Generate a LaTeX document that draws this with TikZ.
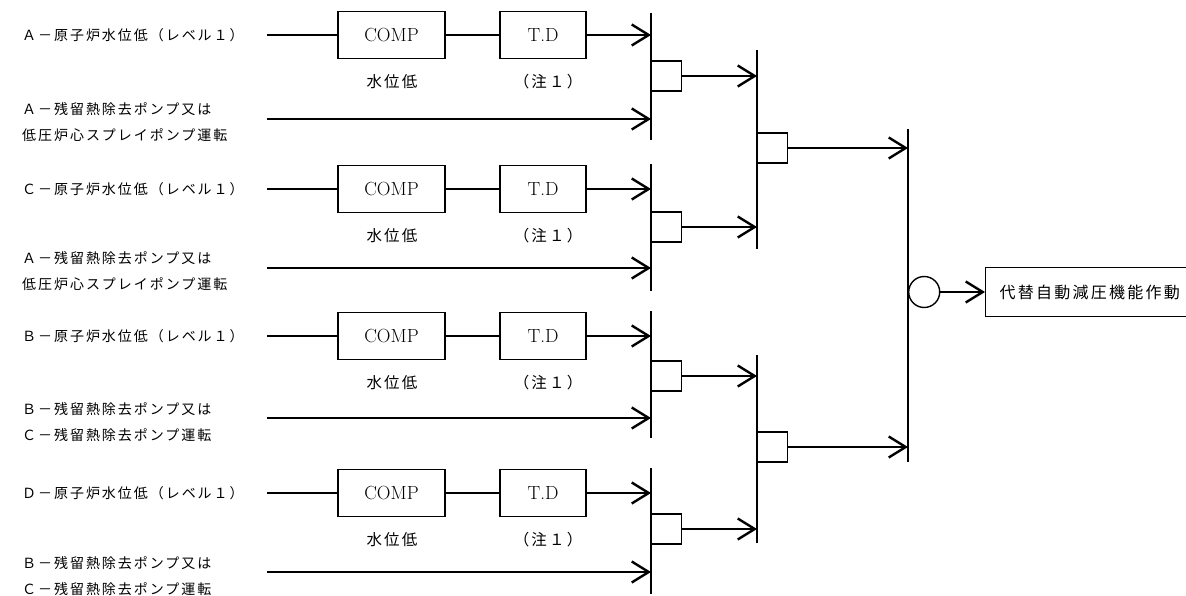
\documentclass[tikz,border=0pt]{standalone}
\usepackage{fontspec}
\usepackage{tikz}
\usetikzlibrary{arrows.meta}
\usetikzlibrary{backgrounds,positioning}
\newfontfamily\jpfont[LetterSpace=14]{Noto Sans CJK JP}
\pgfdeclarelayer{edgelayer}
\pgfdeclarelayer{nodelayer}
\pgfsetlayers{background,edgelayer,nodelayer,main}
\tikzstyle{none}=[inner sep=0mm]
\tikzstyle{sig}=[inner sep=0mm,anchor=west,align=left,font={\jpfont\fontsize{14}{26}\selectfont}]
\tikzstyle{note}=[inner sep=0mm,font={\jpfont\fontsize{15.5}{18}\selectfont}]
\tikzstyle{blk}=[draw=black,line width=1.4pt,minimum height=47pt,inner sep=0mm,font={\fontsize{19}{22}\selectfont}]
\tikzstyle{comp}=[blk,minimum width=107pt]
\tikzstyle{td}=[blk,minimum width=86pt]
\tikzstyle{andg}=[draw=black,line width=1.4pt,minimum size=30pt,inner sep=0mm,anchor=west]
\tikzstyle{org}=[draw=black,line width=1.4pt,shape=circle,minimum size=31pt,inner sep=0mm,anchor=west]
\tikzstyle{outbox}=[draw=black,line width=1.4pt,minimum height=49pt,inner xsep=14pt,anchor=west,font={\jpfont\fontsize{16}{18}\selectfont}]
\tikzstyle{wire}=[line width=2.4pt]
\tikzstyle{bus}=[line width=2.4pt]
\tikzstyle{arr}=[wire,-{Straight Barb[length=17pt,width=21pt]}]

\begin{document}
\begin{tikzpicture}[x=1pt,y=-1pt]
	\useasboundingbox (0,0) rectangle (1186,596);
	\begin{pgfonlayer}{nodelayer}
		% A
		\node [style=sig] (l1) at (22, 35) {Ａ－原子炉水位低（レベル１）};
		\node [style=sig] (l2) at (22, 122) {Ａ－残留熱除去ポンプ又は\\低圧炉心スプレイポンプ運転};
		\node [style=none] (s1) at (267, 35) {};
		\node [style=none] (s2) at (267, 119) {};
		\node [style=comp] (cp1) at (391.5, 35) {COMP};
		\node [style=td] (td1) at (543, 35) {T.D};
		\node [style=note] (n1) at (392, 82) {水位低};
		\node [style=note] (m1) at (548, 82) {（注１）};
		\node [style=none] (e1) at (651, 35) {};
		\node [style=none] (f1) at (651, 119) {};
		\node [style=none] (b1t) at (651, 13) {};
		\node [style=none] (b1b) at (651, 140) {};
		\node [style=andg] (g1) at (651, 76) {};
		% C
		\node [style=sig] (l3) at (22, 189) {Ｃ－原子炉水位低（レベル１）};
		\node [style=sig] (l4) at (22, 271) {Ａ－残留熱除去ポンプ又は\\低圧炉心スプレイポンプ運転};
		\node [style=none] (s3) at (267, 189) {};
		\node [style=none] (s4) at (267, 268) {};
		\node [style=comp] (cp2) at (391.5, 189) {COMP};
		\node [style=td] (td2) at (543, 189) {T.D};
		\node [style=note] (n2) at (392, 236) {水位低};
		\node [style=note] (m2) at (548, 236) {（注１）};
		\node [style=none] (e3) at (651, 189) {};
		\node [style=none] (f3) at (651, 268) {};
		\node [style=none] (b2t) at (651, 164) {};
		\node [style=none] (b2b) at (651, 291) {};
		\node [style=andg] (g2) at (651, 227) {};
		% B
		\node [style=sig] (l5) at (22, 336) {Ｂ－原子炉水位低（レベル１）};
		\node [style=sig] (l6) at (22, 422) {Ｂ－残留熱除去ポンプ又は\\Ｃ－残留熱除去ポンプ運転};
		\node [style=none] (s5) at (267, 336) {};
		\node [style=none] (s6) at (267, 418) {};
		\node [style=comp] (cp3) at (391.5, 336) {COMP};
		\node [style=td] (td3) at (543, 336) {T.D};
		\node [style=note] (n3) at (392, 383) {水位低};
		\node [style=note] (m3) at (548, 383) {（注１）};
		\node [style=none] (e5) at (651, 336) {};
		\node [style=none] (f5) at (651, 418) {};
		\node [style=none] (b3t) at (651, 311) {};
		\node [style=none] (b3b) at (651, 438) {};
		\node [style=andg] (g3) at (651, 376) {};
		% D
		\node [style=sig] (l7) at (22, 493) {Ｄ－原子炉水位低（レベル１）};
		\node [style=sig] (l8) at (22, 576) {Ｂ－残留熱除去ポンプ又は\\Ｃ－残留熱除去ポンプ運転};
		\node [style=none] (s7) at (267, 493) {};
		\node [style=none] (s8) at (267, 572) {};
		\node [style=comp] (cp4) at (391.5, 493) {COMP};
		\node [style=td] (td4) at (543, 493) {T.D};
		\node [style=note] (n4) at (392, 540) {水位低};
		\node [style=note] (m4) at (548, 540) {（注１）};
		\node [style=none] (e7) at (651, 493) {};
		\node [style=none] (f7) at (651, 572) {};
		\node [style=none] (b4t) at (651, 468) {};
		\node [style=none] (b4b) at (651, 594) {};
		\node [style=andg] (g4) at (651, 529) {};
		% second stage
		\node [style=none] (h1) at (757, 76) {};
		\node [style=none] (h2) at (757, 227) {};
		\node [style=none] (c1t) at (757, 50) {};
		\node [style=none] (c1b) at (757, 249) {};
		\node [style=andg] (k1) at (757, 148) {};
		\node [style=none] (h3) at (757, 376) {};
		\node [style=none] (h4) at (757, 529) {};
		\node [style=none] (c2t) at (757, 355) {};
		\node [style=none] (c2b) at (757, 543) {};
		\node [style=andg] (k2) at (757, 447) {};
		% last stage
		\node [style=none] (q1) at (908, 148) {};
		\node [style=none] (q2) at (908, 447) {};
		\node [style=none] (dt) at (908, 129) {};
		\node [style=none] (db) at (908, 462) {};
		\node [style=org] (o) at (908, 292) {};
		\node [style=outbox] (out) at (985, 292) {代替自動減圧機能作動};
	\end{pgfonlayer}
	\begin{pgfonlayer}{edgelayer}
		\draw[style=bus] (b1t.center) to (b1b.center);
		\draw[style=bus] (b2t.center) to (b2b.center);
		\draw[style=bus] (b3t.center) to (b3b.center);
		\draw[style=bus] (b4t.center) to (b4b.center);
		\draw[style=bus] (c1t.center) to (c1b.center);
		\draw[style=bus] (c2t.center) to (c2b.center);
		\draw[style=bus] (dt.center) to (db.center);
		\draw[style=wire] (s1.center) to (cp1);
		\draw[style=wire] (cp1) to (td1);
		\draw[style=arr] (td1) to (e1.center);
		\draw[style=arr] (s2.center) to (f1.center);
		\draw[style=wire] (s3.center) to (cp2);
		\draw[style=wire] (cp2) to (td2);
		\draw[style=arr] (td2) to (e3.center);
		\draw[style=arr] (s4.center) to (f3.center);
		\draw[style=wire] (s5.center) to (cp3);
		\draw[style=wire] (cp3) to (td3);
		\draw[style=arr] (td3) to (e5.center);
		\draw[style=arr] (s6.center) to (f5.center);
		\draw[style=wire] (s7.center) to (cp4);
		\draw[style=wire] (cp4) to (td4);
		\draw[style=arr] (td4) to (e7.center);
		\draw[style=arr] (s8.center) to (f7.center);
		\draw[style=arr] (g1) to (h1.center);
		\draw[style=arr] (g2) to (h2.center);
		\draw[style=arr] (g3) to (h3.center);
		\draw[style=arr] (g4) to (h4.center);
		\draw[style=arr] (k1) to (q1.center);
		\draw[style=arr] (k2) to (q2.center);
		\draw[style=arr] (o) to (out);
	\end{pgfonlayer}
\end{tikzpicture}
\end{document}
